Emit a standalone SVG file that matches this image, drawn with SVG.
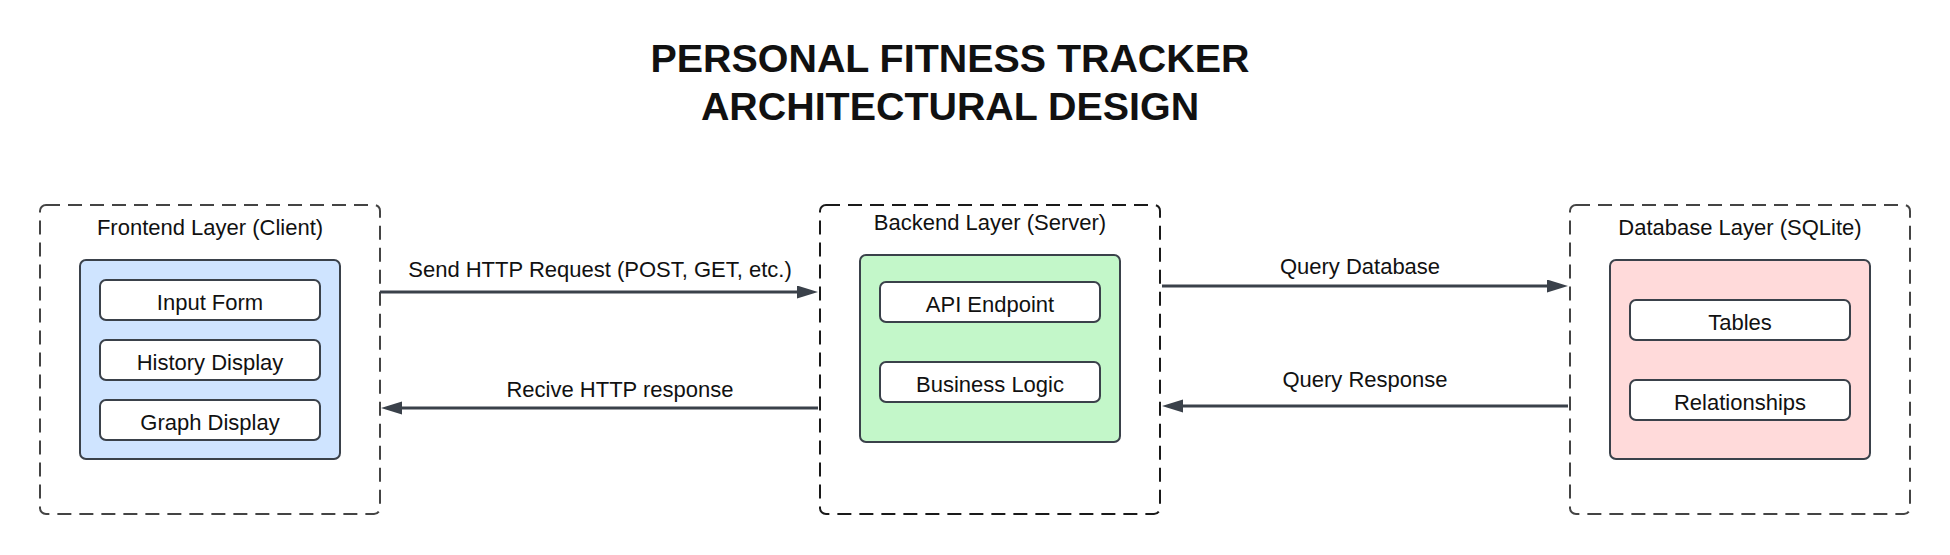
<svg xmlns="http://www.w3.org/2000/svg" width="1950" height="555" viewBox="0 0 1950 555">
  <style>
    text { font-family: "Liberation Sans", Arial, sans-serif; fill: #111; }
    .title { font-size: 39.4px; font-weight: bold; text-anchor: middle; }
    .lbl { font-size: 22px; text-anchor: middle; }
    .layer { fill: #fff; stroke: #444; stroke-width: 2; stroke-dasharray: 14 8; }
    .layer.dark { stroke: #1a1a1a; }
    .panel { stroke: #3a414a; stroke-width: 2; }
    .item { fill: #fff; stroke: #3a414a; stroke-width: 2; }
    .conn { fill: none; stroke: #3a414a; stroke-width: 3; }
  </style>
  <defs>
    <marker id="arrow" markerUnits="userSpaceOnUse" markerWidth="22" markerHeight="14" refX="13" refY="6.5" orient="auto">
      <path d="M0,0 L21,6.5 L0,13 z" fill="#3a414a"/>
    </marker>
  </defs>
  <rect width="1950" height="555" fill="#fff"/>

  <g id="title">
    <text class="title" x="950" y="72">PERSONAL FITNESS TRACKER</text>
    <text class="title" x="950" y="120">ARCHITECTURAL DESIGN</text>
  </g>

  <g id="frontend">
    <rect class="layer" x="40" y="205" width="340" height="309" rx="6"/>
    <text class="lbl" x="210" y="235">Frontend Layer (Client)</text>
    <rect class="panel" x="80" y="260" width="260" height="199" rx="6" fill="#cfe4ff"/>
    <g id="input-form">
      <rect class="item" x="100" y="280" width="220" height="40" rx="6"/>
      <text class="lbl" x="210" y="309.5">Input Form</text>
    </g>
    <g id="history-display">
      <rect class="item" x="100" y="340" width="220" height="40" rx="6"/>
      <text class="lbl" x="210" y="369.5">History Display</text>
    </g>
    <g id="graph-display">
      <rect class="item" x="100" y="400" width="220" height="40" rx="6"/>
      <text class="lbl" x="210" y="429.5">Graph Display</text>
    </g>
  </g>

  <g id="backend">
    <rect class="layer dark" x="820" y="205" width="340" height="309" rx="6"/>
    <text class="lbl" x="990" y="230">Backend Layer (Server)</text>
    <rect class="panel" x="860" y="255" width="260" height="187" rx="6" fill="#c3f7c9"/>
    <g id="api-endpoint">
      <rect class="item" x="880" y="282" width="220" height="40" rx="6"/>
      <text class="lbl" x="990" y="312">API Endpoint</text>
    </g>
    <g id="business-logic">
      <rect class="item" x="880" y="362" width="220" height="40" rx="6"/>
      <text class="lbl" x="990" y="392">Business Logic</text>
    </g>
  </g>

  <g id="database">
    <rect class="layer" x="1570" y="205" width="340" height="309" rx="6"/>
    <text class="lbl" x="1740" y="235">Database Layer (SQLite)</text>
    <rect class="panel" x="1610" y="260" width="260" height="199" rx="6" fill="#ffdada"/>
    <g id="tables">
      <rect class="item" x="1630" y="300" width="220" height="40" rx="6"/>
      <text class="lbl" x="1740" y="329.5">Tables</text>
    </g>
    <g id="relationships">
      <rect class="item" x="1630" y="380" width="220" height="40" rx="6"/>
      <text class="lbl" x="1740" y="409.5">Relationships</text>
    </g>
  </g>

  <g id="connectors">
    <path class="conn" d="M380,292 H810" marker-end="url(#arrow)"/>
    <text class="lbl" x="600" y="277">Send HTTP Request (POST, GET, etc.)</text>
    <path class="conn" d="M818,408 H389" marker-end="url(#arrow)"/>
    <text class="lbl" x="620" y="397">Recive HTTP response</text>
    <path class="conn" d="M1162,286 H1560" marker-end="url(#arrow)"/>
    <text class="lbl" x="1360" y="274">Query Database</text>
    <path class="conn" d="M1568,406 H1170" marker-end="url(#arrow)"/>
    <text class="lbl" x="1365" y="387">Query Response</text>
  </g>
</svg>
